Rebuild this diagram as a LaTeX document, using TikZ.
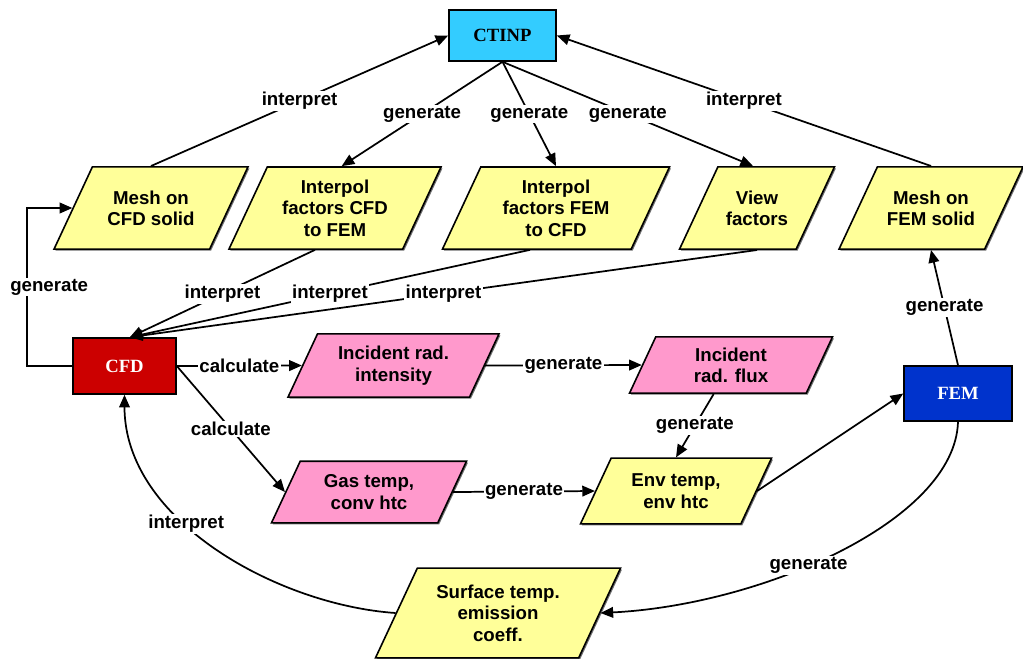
\documentclass[tikz,border=0pt]{standalone}
\usepackage{fontspec}
\setmainfont{Liberation Sans}
\newfontfamily\serifbf{Liberation Serif}
\usetikzlibrary{shapes.geometric,arrows.meta,shadows}
\definecolor{boxyellow}{HTML}{FFFF99}
\definecolor{boxpink}{HTML}{FF99CC}
\definecolor{boxcyan}{HTML}{33CCFF}
\definecolor{boxred}{HTML}{CC0000}
\definecolor{boxblue}{HTML}{0033CC}
\begin{document}
\begin{tikzpicture}[x=0.75pt,y=-0.75pt,
  conn/.style={line width=1.3pt,-{Triangle[length=9.5pt,width=8pt]}},
  lab/.style={fill=white,inner sep=1pt,font=\bfseries\fontsize{14}{16}\selectfont},
  shadowed/.style={drop shadow={shadow xshift=1.1pt,shadow yshift=-1.1pt,opacity=0.8,fill=black!70}},
  para/.style={trapezium,trapezium left angle=65,trapezium right angle=115,
    trapezium stretches body,draw,line width=1.2pt,align=center,inner xsep=1pt,
    font=\bfseries\fontsize{14}{16}\selectfont,shadowed},
  yel/.style={para,fill=boxyellow},
  pnk/.style={para,fill=boxpink},
  rbox/.style={rectangle,draw,line width=1.2pt,font=\serifbf\bfseries\fontsize{14}{16}\selectfont,shadowed},
]
\useasboundingbox (0,0) rectangle (1023,658);

\node[rbox,fill=boxcyan,minimum width=80.25pt,minimum height=38.25pt] (ctinp) at (502.5,35.5) {CTINP};
\node[rbox,fill=boxred,text=white,minimum width=77.25pt,minimum height=42pt] (cfd) at (124.5,366) {CFD};
\node[rbox,fill=boxblue,text=white,minimum width=81pt,minimum height=41.25pt] (fem) at (958,393.5) {FEM};

\node[yel,minimum width=145.5pt,inner ysep=17.75pt] (mcfd) at (151,208) {Mesh on\\CFD solid};
\node[yel,minimum width=159pt,inner ysep=9.65pt] (icf) at (335,208) {Interpol\\factors CFD\\to FEM};
\node[yel,minimum width=170.25pt,inner ysep=9.65pt] (ifc) at (556,208) {Interpol\\factors FEM\\to CFD};
\node[yel,minimum width=116.25pt,inner ysep=17.75pt] (view) at (757,208) {View\\factors};
\node[yel,minimum width=138pt,inner ysep=17.75pt] (mfem) at (931,208) {Mesh on\\FEM solid};
\node[pnk,minimum width=158.25pt,inner ysep=9.2pt] (inten) at (393.5,365.5) {Incident rad.\\intensity};
\node[pnk,minimum width=152.25pt,inner ysep=8pt] (flux) at (731,365) {Incident\\rad. flux};
\node[pnk,minimum width=146.25pt,inner ysep=10.15pt] (gas) at (369,492) {Gas temp,\\conv htc};
\node[yel,minimum width=143.25pt,inner ysep=11.75pt] (env) at (676,491) {Env temp,\\env htc};
\node[yel,minimum width=183.75pt,inner ysep=12.5pt] (surf) at (498,613) {Surface temp.\\emission\\coeff.};

\draw[conn] (mcfd.north) -- node[lab]{interpret} (ctinp.west);
\draw[conn] (mfem.north) -- node[lab]{interpret} (ctinp.east);
\draw[conn] (ctinp.south) -- node[lab]{generate} ([xshift=5pt]icf.north);
\draw[conn] (ctinp.south) -- node[lab]{generate} (ifc.north);
\draw[conn] (ctinp.south) -- node[lab]{generate} ([xshift=-3pt]view.north);
\draw[conn] (cfd.west) -- ++(-45,0) |- node[lab,pos=0.25,xshift=16.5pt]{generate} (mcfd.west);
\draw[conn] ([xshift=-15pt]icf.south) -- node[lab]{interpret} ([xshift=4pt]cfd.north);
\draw[conn] ([xshift=-19.5pt]ifc.south) -- node[lab]{interpret} ([xshift=4pt]cfd.north);
\draw[conn] (view.south) -- node[lab]{interpret} ([xshift=4pt]cfd.north);
\draw[conn] (cfd.east) -- node[lab]{calculate} (inten.west);
\draw[conn] (cfd.east) -- node[lab]{calculate} (gas.west);
\draw[conn] (inten.east) -- node[lab]{generate} (flux.west);
\draw[conn] ([xshift=-13pt]flux.south) -- node[lab]{generate} (env.north);
\draw[conn] (gas.east) -- node[lab]{generate} (env.west);
\draw[conn] (env.east) -- (fem.west);
\draw[conn] (fem.north) -- node[lab]{generate} (mfem.south);
\draw[conn] (fem.south) .. controls +(-3,99) and +(161,-8) .. node[lab,pos=0.57]{generate} (surf.east);
\draw[conn] (surf.west) .. controls +(-117,-8) and +(0,126) .. node[lab,pos=0.6]{interpret} (cfd.south);
\end{tikzpicture}
\end{document}
